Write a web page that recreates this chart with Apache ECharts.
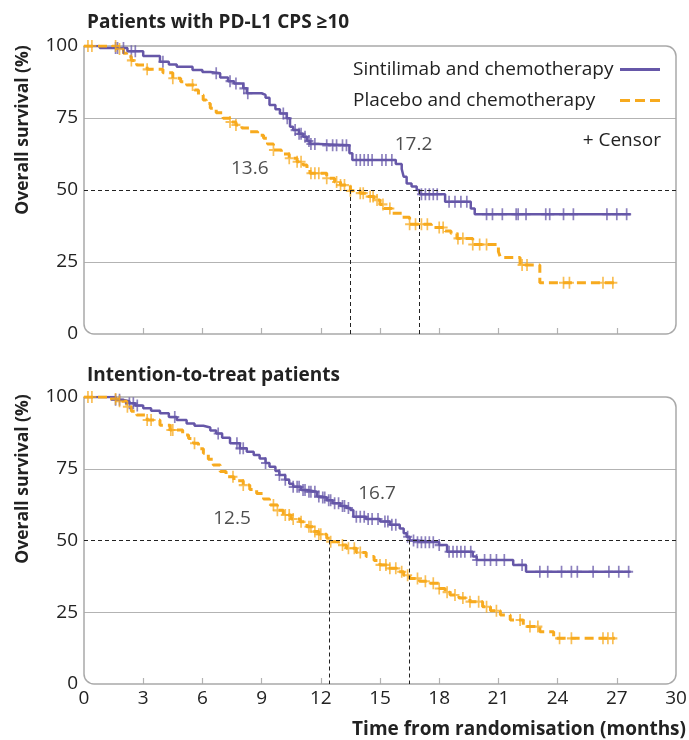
<!DOCTYPE html>
<html>
<head>
<meta charset="utf-8">
<script src="https://cdn.jsdelivr.net/npm/echarts@6/dist/echarts.min.js"></script>
<style>html,body{margin:0;padding:0;background:#fff}#c{width:689px;height:740px}</style>
</head>
<body>
<div id="c"></div>
<script>
// ---------- data ----------
const panelTitles = ['Patients with PD-L1 CPS ≥10', 'Intention-to-treat patients'];
const seriesNames = ['Sintilimab and chemotherapy', 'Placebo and chemotherapy'];
const xTicks = [0, 3, 6, 9, 12, 15, 18, 21, 24, 27, 30];
const yTicks = [0, 25, 50, 75, 100];

// Top panel (PD-L1 CPS >=10): [months, survival %] after each step
const topSint = [[0,100],[0.8,99.3],[2.2,98.2],[3.0,96.5],[3.85,94.5],[4.3,93.6],[4.7,92.8],[5.5,91.7],[6.0,91.0],[6.4,90.5],[6.9,89.1],[7.3,87.8],[7.6,87],[8.07,85.3],[8.25,83.6],[9.0,83.0],[9.2,82.0],[9.4,79.5],[9.7,78.0],[9.93,76.6],[10.27,74.9],[10.44,72],[10.6,70.8],[10.9,69.5],[11.1,68.5],[11.3,67.0],[11.45,66.0],[11.9,65.5],[13.45,62.8],[13.6,60.4],[15.8,59.0],[16.1,57.3],[16.2,54.6],[16.35,52.3],[16.6,51.2],[16.86,50],[17.0,48.5],[18.3,45.9],[19.6,43.6],[19.8,41.6],[27.7,41.6]];
const topPlac = [[0,100],[1.7,99],[2.0,97.5],[2.16,96.3],[2.4,95],[2.67,93.4],[3.2,91.9],[4.0,90.7],[4.5,88.8],[4.9,87.6],[5.2,86.5],[5.6,84.7],[5.8,83.0],[6.04,81.25],[6.2,80],[6.4,78.4],[6.7,76.8],[7.05,74.9],[7.4,73.6],[7.7,72.6],[8.0,71.5],[8.4,70.2],[8.8,69.0],[9.1,68],[9.3,66],[9.6,63.9],[10.0,62.5],[10.4,61],[10.8,59.8],[11.1,58.7],[11.3,57.2],[11.45,55.8],[12.3,54.1],[12.7,52.8],[13.0,51.7],[13.5,49.7],[14.0,48.9],[14.4,47.7],[14.7,46.5],[15.0,45],[15.2,43.6],[15.6,41.9],[16.1,40.5],[16.5,38.1],[17.6,37],[18.3,35.8],[18.6,34.9],[18.9,33.2],[19.7,31.1],[21.0,28.6],[21.1,26.6],[22.1,24],[23.1,17.8],[26.9,17.8]];
const topSintCensor = [1.6,1.7,2.0,2.4,2.6,4.0,6.7,7.4,7.7,8.1,8.3,10.1,10.3,10.7,10.9,11.0,11.2,11.4,11.5,11.7,12.3,12.6,12.8,13.1,13.3,13.8,14.0,14.2,14.4,14.6,15.1,15.3,15.6,17.1,17.3,17.5,17.7,17.9,18.5,18.8,19.1,19.4,20.4,20.7,21.2,21.9,22.0,22.4,23.4,23.6,24.3,24.8,26.5,27.0,27.5];
const topPlacCensor = [0.2,0.4,1.6,1.8,2.4,3.2,4.5,5.5,7.4,7.7,9.6,10.4,10.8,11.0,11.5,11.7,11.9,12.3,12.8,13.0,13.2,13.5,14.0,14.15,14.5,14.65,14.85,15.15,15.5,16.5,16.8,17.1,17.4,18.0,18.2,18.95,19.2,19.7,20.05,20.4,22.2,22.45,24.3,24.6,26.3,26.8];

// Bottom panel (intention-to-treat)
const botSint = [[0,100],[1.6,99],[2.0,98.5],[2.3,97.8],[2.6,97],[3.0,96.1],[3.4,95.2],[3.85,94.3],[4.3,93],[4.7,92],[5.2,90.8],[5.6,90],[6.05,89.4],[6.4,88.3],[6.7,87.3],[7.0,85.8],[7.4,83.9],[7.9,82.1],[8.25,80.9],[8.6,79.8],[8.9,78.6],[9.2,77],[9.4,75.7],[9.7,74.2],[9.9,72.8],[10.2,71.2],[10.4,69.8],[10.6,68.7],[11.0,67.6],[11.3,67],[11.8,65.3],[12.0,65.0],[12.3,64],[12.6,63],[13.0,62],[13.3,61.3],[13.5,60.6],[13.65,58.3],[14.3,57.5],[15.0,56.6],[15.5,55.5],[16.0,54.2],[16.2,52.5],[16.35,51.3],[16.5,50.0],[16.86,49.4],[18.0,48.4],[18.4,46.1],[19.7,44.4],[19.9,43.2],[21.75,41.5],[22.4,39.1],[27.7,39.1]];
const botPlac = [[0,100],[1.3,99.3],[1.8,98.5],[2.16,96.6],[2.4,95],[2.67,93.7],[3.2,92],[3.85,90.2],[4.36,88.5],[5.0,86.8],[5.3,85.5],[5.55,83.9],[5.8,82],[6.05,80.4],[6.3,78.3],[6.55,76.3],[6.9,74],[7.2,72.2],[7.6,70.8],[8.07,69.3],[8.4,67.8],[8.75,66.4],[9.1,64.5],[9.4,62.4],[9.8,60.5],[10.1,58.9],[10.5,57.5],[10.95,56.5],[11.3,54.8],[11.6,53.1],[11.9,52.2],[12.3,50.8],[12.47,49.6],[12.9,48.4],[13.3,47.3],[13.8,45.8],[14.3,44.4],[14.7,43],[15.0,41.5],[15.4,40.3],[15.85,39.1],[16.2,37.9],[16.5,36.8],[17.0,35.8],[17.4,35.1],[18.0,33.3],[18.3,32],[18.55,31],[19.0,30],[19.56,28.7],[20.2,26.9],[20.6,25.5],[21.1,24],[21.6,22.3],[22.26,20],[23.1,18.2],[23.8,15.9],[26.9,15.9]];
const botSintCensor = [1.6,1.8,2.3,2.5,2.7,4.6,6.8,7.75,7.9,8.07,9.2,9.9,10.2,10.6,10.8,10.9,11.1,11.2,11.4,11.5,11.7,11.9,12.1,12.2,12.4,12.5,12.7,12.9,13.1,13.2,13.4,13.8,14.0,14.2,14.4,14.6,14.9,15.25,15.4,15.6,15.8,16.4,16.7,16.9,17.1,17.3,17.5,17.7,18.0,18.5,18.7,18.9,19.1,19.3,19.6,19.9,20.3,20.6,20.9,21.3,22.2,23.1,23.5,24.2,24.7,25.0,25.8,26.6,27.1,27.6];
const botPlacCensor = [0.2,0.4,1.6,1.8,2.2,3.2,3.4,4.4,4.5,5.6,7.55,8.07,9.6,9.8,10.2,10.4,10.6,11.0,11.4,11.5,11.7,11.9,12.0,12.5,13.1,13.4,13.7,14.0,15.0,15.3,15.5,15.8,16.1,16.4,16.9,17.3,17.7,18.0,18.4,18.8,19.2,19.56,20.0,20.4,20.9,22.1,22.6,23.0,24.1,24.7,26.3,26.55,26.8];

// Medians: where the dashed drop lines are drawn, and the printed values
const topMedianX = [13.5, 17.0];
const botMedianX = [12.45, 16.5];
const topMedianText = ['13.6', '17.2'];
const botMedianText = ['12.5', '16.7'];
const topMedianLabelPos = [[8.4, 57.6], [16.7, 65.6]];
const botMedianLabelPos = [[7.5, 57.8], [14.85, 66.2]];

// ---------- styling / layout ----------
const FONT = '"Open Sans", "Noto Sans", sans-serif';
const FS = 19;
const PURPLE = '#6657a8';
const ORANGE = '#f7aa1e';
const GRIDC = '#b3b3b3';
const G = [{left: 84, top: 46, width: 592, height: 288}, {left: 84, top: 397, width: 592, height: 287}];
const CROSS = 'path://M3.25,0H4.75V3.3H8V4.7H4.75V8H3.25V4.7H0V3.3H3.25Z';
const ICON_SOLID = 'path://M0,0H40V3H0Z';
const ICON_DASH = 'path://M0,0H10V3H0ZM15,0H25V3H15ZM30,0H40V3H30Z';

function survAt(steps, t) {
  let s = steps[0][1];
  for (const p of steps) { if (p[0] <= t) s = p[1]; else break; }
  return s;
}
function censorPts(steps, times) { return times.map(t => [t, survAt(steps, t)]); }

function lineSeries(name, data, gi, color, dashed) {
  return {
    name, type: 'line', data, step: 'end', xAxisIndex: gi, yAxisIndex: gi,
    symbol: 'none', showSymbol: false, z: 3, silent: true,
    lineStyle: {color, width: dashed ? 3 : 2.5, type: dashed ? [9, 5] : 'solid'},
    itemStyle: {color}
  };
}
function censorSeries(id, data, gi, color) {
  return {
    name: id, type: 'scatter', data, xAxisIndex: gi, yAxisIndex: gi,
    symbol: CROSS, symbolSize: [9, 12], z: 4, silent: true,
    itemStyle: {color, opacity: 0.75}
  };
}
function refLines(gi, medX) {
  return {
    name: 'ref' + gi, type: 'line', data: [], xAxisIndex: gi, yAxisIndex: gi, z: 2, silent: true,
    markLine: {
      symbol: 'none', silent: true, animation: false,
      lineStyle: {color: '#222', width: 1, type: [4, 3]},
      label: {show: false},
      data: [{yAxis: 50}].concat(medX.map(x => [{coord: [x, 50]}, {coord: [x, 0]}]))
    }
  };
}
function labelSeries(gi, pos, texts) {
  return {
    name: 'lab' + gi, type: 'scatter', xAxisIndex: gi, yAxisIndex: gi, symbolSize: 0, silent: true, z: 5,
    data: pos.map((p, i) => ({value: p, name: texts[i]})),
    label: {show: true, position: 'inside', formatter: p => p.name, fontSize: FS, color: '#222', fontFamily: FONT}
  };
}

const xAxes = G.map((g, i) => ({
  type: 'value', gridIndex: i, min: 0, max: 30, interval: 3,
  axisLine: {show: false},
  axisTick: {show: true, inside: true, length: 6, lineStyle: {color: GRIDC, width: 1.2}, customValues: xTicks.slice(1, -1)},
  splitLine: {show: false},
  axisLabel: {show: i === 1, fontSize: FS, color: '#222', fontFamily: FONT, margin: 5, customValues: xTicks}
}));
const yAxes = G.map((g, i) => ({
  type: 'value', gridIndex: i, min: 0, max: 100, interval: 25,
  axisLine: {show: false}, axisTick: {show: false},
  splitLine: {show: true, lineStyle: {color: ['transparent', GRIDC, 'transparent', GRIDC, 'transparent'], width: 1.2}},
  axisLabel: {fontSize: FS, color: '#222', fontFamily: FONT, margin: 6}
}));

const option = {
  animation: false,
  backgroundColor: '#fff',
  textStyle: {fontFamily: FONT},
  title: panelTitles.map((t, i) => ({
    text: t, left: 82, top: i === 0 ? 8 : 361,
    textStyle: {fontSize: 19, fontWeight: 'bold', color: '#222', fontFamily: FONT}
  })),
  grid: G.map(g => Object.assign({outerBoundsMode: 'none', containLabel: false}, g)),
  xAxis: xAxes,
  yAxis: yAxes,
  legend: {
    data: [{name: seriesNames[0], icon: ICON_SOLID}, {name: seriesNames[1], icon: ICON_DASH}],
    orient: 'vertical', left: 348, top: 55, align: 'right',
    itemWidth: 40, itemHeight: 3, itemGap: 12, selectedMode: false,
    formatter: n => '{a|' + n + '}',
    textStyle: {fontSize: FS, color: '#222', fontFamily: FONT, rich: {a: {width: 262, align: 'left', lineHeight: 20, fontSize: FS, color: '#222', fontFamily: FONT}}}
  },
  graphic: [
    {type: 'rect', z: 1, silent: true, shape: {x: G[0].left, y: G[0].top, width: G[0].width, height: G[0].height, r: [0, 10, 10, 10]}, style: {fill: 'none', stroke: '#a9a9a9', lineWidth: 1.5}},
    {type: 'rect', z: 1, silent: true, shape: {x: G[1].left, y: G[1].top, width: G[1].width, height: G[1].height, r: [0, 10, 10, 10]}, style: {fill: 'none', stroke: '#a9a9a9', lineWidth: 1.5}},
    {type: 'text', z: 10, silent: true, x: 661, y: 141, style: {text: '+ Censor', fontSize: FS, fill: '#222', fontFamily: FONT, align: 'right', verticalAlign: 'middle'}},
    {type: 'text', z: 10, silent: true, x: 23, y: 130, rotation: Math.PI / 2, style: {text: 'Overall survival (%)', fontSize: 17.5, fontWeight: 'bold', fill: '#222', fontFamily: FONT, align: 'center', verticalAlign: 'middle'}},
    {type: 'text', z: 10, silent: true, x: 23, y: 479, rotation: Math.PI / 2, style: {text: 'Overall survival (%)', fontSize: 17.5, fontWeight: 'bold', fill: '#222', fontFamily: FONT, align: 'center', verticalAlign: 'middle'}},
    {type: 'text', z: 10, silent: true, x: 686, y: 730, style: {text: 'Time from randomisation (months)', fontSize: 19, fontWeight: 'bold', fill: '#222', fontFamily: FONT, align: 'right', verticalAlign: 'middle'}}
  ],
  series: [
    refLines(0, topMedianX),
    lineSeries(seriesNames[0], topSint, 0, PURPLE, false),
    lineSeries(seriesNames[1], topPlac, 0, ORANGE, true),
    censorSeries('c0s', censorPts(topSint, topSintCensor), 0, PURPLE),
    censorSeries('c0p', censorPts(topPlac, topPlacCensor), 0, ORANGE),
    labelSeries(0, topMedianLabelPos, topMedianText),
    refLines(1, botMedianX),
    lineSeries(seriesNames[0], botSint, 1, PURPLE, false),
    lineSeries(seriesNames[1], botPlac, 1, ORANGE, true),
    censorSeries('c1s', censorPts(botSint, botSintCensor), 1, PURPLE),
    censorSeries('c1p', censorPts(botPlac, botPlacCensor), 1, ORANGE),
    labelSeries(1, botMedianLabelPos, botMedianText)
  ]
};
const chart = echarts.init(document.getElementById('c'), null, {renderer: 'canvas'});
chart.setOption(option);
</script>
</body>
</html>
